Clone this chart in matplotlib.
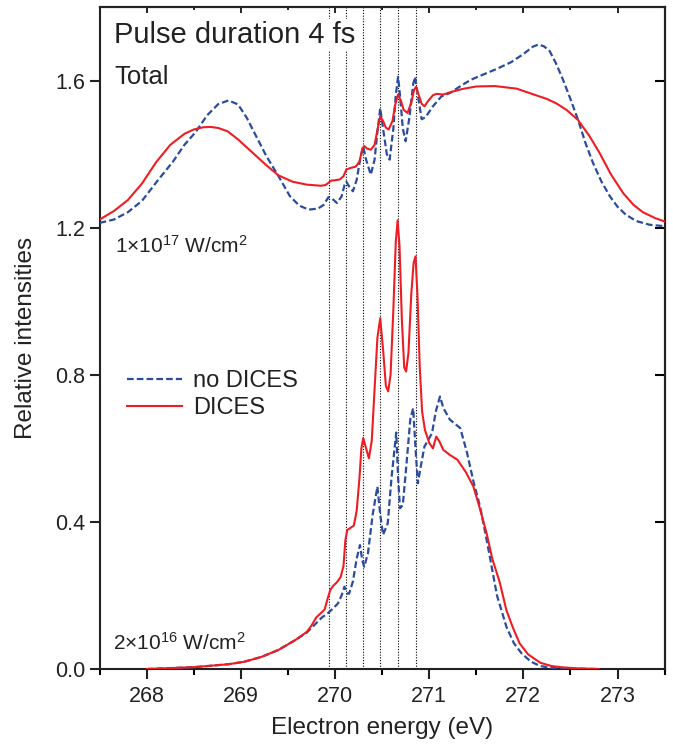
import numpy as np
import matplotlib
matplotlib.use("Agg")
import matplotlib.pyplot as plt
from matplotlib.ticker import MultipleLocator

plt.rcParams['font.family'] = ['Liberation Sans', 'DejaVu Sans']
plt.rcParams['mathtext.fontset'] = 'custom'
plt.rcParams['mathtext.rm'] = 'Liberation Sans'
plt.rcParams['mathtext.it'] = 'Liberation Sans:italic'
plt.rcParams['mathtext.bf'] = 'Liberation Sans:bold'

# ------------------------------------------------------------
# data
# ------------------------------------------------------------
# 1e17 W/cm^2, DICES (red solid)
hi_dices_E = [267.5, 267.65, 267.8, 267.95, 268.1, 268.25, 268.4, 268.5, 268.6, 268.68,
              268.76, 268.86, 268.97, 269.12, 269.27, 269.4, 269.55, 269.7, 269.85, 269.9,
              269.93, 269.96, 270.0, 270.05, 270.09, 270.12, 270.16, 270.22, 270.26, 270.29,
              270.31, 270.34, 270.38, 270.42, 270.45, 270.48, 270.51, 270.54, 270.57, 270.61,
              270.64, 270.67, 270.7, 270.73, 270.77, 270.81, 270.84, 270.86, 270.89, 270.92,
              270.95, 270.99, 271.04, 271.08, 271.15, 271.22, 271.35, 271.5, 271.7, 271.93,
              272.1, 272.25, 272.35, 272.46, 272.58, 272.7, 272.81, 272.93, 273.06, 273.17,
              273.27, 273.4, 273.5]
hi_dices_I = [1.222, 1.245, 1.275, 1.32, 1.378, 1.425, 1.455, 1.467, 1.473, 1.474,
              1.471, 1.462, 1.44, 1.405, 1.37, 1.342, 1.325, 1.317, 1.314, 1.316,
              1.322, 1.328, 1.329, 1.331, 1.34, 1.358, 1.362, 1.366, 1.38, 1.415,
              1.422, 1.415, 1.412, 1.425, 1.465, 1.503, 1.49, 1.472, 1.467, 1.49,
              1.535, 1.562, 1.545, 1.52, 1.512, 1.54, 1.575, 1.583, 1.56, 1.537,
              1.53, 1.545, 1.56, 1.564, 1.562, 1.568, 1.577, 1.584, 1.585, 1.578,
              1.563, 1.55, 1.538, 1.52, 1.493, 1.45, 1.403, 1.345, 1.294, 1.262,
              1.242, 1.226, 1.217]

# 1e17 W/cm^2, no DICES (blue dashed)
hi_nodices_E = [267.5, 267.65, 267.8, 267.95, 268.11, 268.28, 268.4, 268.52, 268.64, 268.76,
                268.87, 268.97, 269.06, 269.16, 269.27, 269.4, 269.52, 269.62, 269.72, 269.82,
                269.88, 269.93, 269.97, 270.02, 270.07, 270.1, 270.12, 270.15, 270.19, 270.23,
                270.27, 270.3, 270.33, 270.38, 270.42, 270.45, 270.48, 270.51, 270.55, 270.58,
                270.62, 270.645, 270.67, 270.69, 270.72, 270.75, 270.79, 270.83, 270.85, 270.88,
                270.92, 270.96, 271.04, 271.13, 271.22, 271.35, 271.45, 271.57, 271.72, 271.87,
                272.0, 272.1, 272.16, 272.22, 272.28, 272.35, 272.42, 272.5, 272.58, 272.66,
                272.74, 272.83, 272.92, 273.0, 273.09, 273.2, 273.34, 273.5]
hi_nodices_I = [1.213, 1.222, 1.242, 1.273, 1.326, 1.38, 1.425, 1.46, 1.505, 1.536,
                1.546, 1.535, 1.5, 1.45, 1.395, 1.34, 1.286, 1.26, 1.249, 1.252,
                1.262, 1.283, 1.279, 1.267, 1.285, 1.315, 1.325, 1.312, 1.299, 1.33,
                1.39, 1.42, 1.385, 1.344, 1.385, 1.46, 1.525, 1.47, 1.40, 1.385,
                1.47, 1.56, 1.61, 1.56, 1.47, 1.435, 1.5, 1.59, 1.61, 1.56,
                1.495, 1.50, 1.53, 1.557, 1.566, 1.588, 1.603, 1.616, 1.632, 1.65,
                1.672, 1.692, 1.698, 1.693, 1.68, 1.645, 1.603, 1.55, 1.494, 1.43,
                1.376, 1.325, 1.285, 1.257, 1.235, 1.218, 1.208, 1.204]

# 2e16 W/cm^2, DICES (red solid)
lo_dices_E = [268.0, 268.5, 268.87, 269.04, 269.22, 269.4, 269.58, 269.7, 269.75, 269.8,
              269.85, 269.89, 269.92, 269.95, 269.98, 270.02, 270.06, 270.09, 270.11, 270.13,
              270.16, 270.2, 270.23, 270.26, 270.28, 270.3, 270.33, 270.36, 270.39, 270.42,
              270.45, 270.48, 270.51, 270.54, 270.565, 270.59, 270.62, 270.645, 270.665, 270.685,
              270.71, 270.735, 270.755, 270.78, 270.81, 270.835, 270.855, 270.875, 270.9, 270.925,
              270.955, 271.0, 271.04, 271.075, 271.11, 271.15, 271.22, 271.3, 271.39, 271.47,
              271.54, 271.61, 271.67, 271.75, 271.82, 271.89, 271.96, 272.05, 272.18, 272.3,
              272.4, 272.55, 272.8]
lo_dices_I = [0.0, 0.005, 0.013, 0.02, 0.033, 0.052, 0.079, 0.101, 0.118, 0.14,
              0.152, 0.162, 0.19, 0.215, 0.226, 0.236, 0.25, 0.28, 0.35, 0.378,
              0.383, 0.39, 0.43, 0.52, 0.6, 0.628, 0.60, 0.573, 0.62, 0.76,
              0.90, 0.954, 0.87, 0.77, 0.755, 0.80, 0.98, 1.16, 1.22, 1.15,
              0.95, 0.82, 0.809, 0.86, 1.02, 1.105, 1.122, 1.02, 0.82, 0.70,
              0.65, 0.615, 0.60, 0.632, 0.618, 0.596, 0.582, 0.569, 0.535, 0.496,
              0.435, 0.369, 0.30, 0.235, 0.16, 0.112, 0.07, 0.04, 0.017, 0.008,
              0.005, 0.002, 0.0]

# 2e16 W/cm^2, no DICES (blue dashed)
lo_nodices_E = [268.0, 268.5, 268.87, 269.04, 269.22, 269.4, 269.58, 269.7, 269.79, 269.86,
                269.93, 269.98, 270.03, 270.07, 270.1, 270.13, 270.15, 270.19, 270.23, 270.265,
                270.29, 270.31, 270.35, 270.4, 270.45, 270.48, 270.51, 270.56, 270.6, 270.65,
                270.67, 270.69, 270.72, 270.76, 270.8, 270.83, 270.86, 270.88, 270.91, 270.95,
                271.03, 271.07, 271.115, 271.15, 271.22, 271.33, 271.4, 271.47, 271.54, 271.6,
                271.65, 271.72, 271.82, 271.9, 271.98, 272.08, 272.18, 272.3, 272.5, 272.8]
lo_nodices_I = [0.0, 0.005, 0.013, 0.02, 0.033, 0.052, 0.079, 0.099, 0.122, 0.14,
                0.153, 0.165, 0.178, 0.2, 0.224, 0.205, 0.205, 0.238, 0.3, 0.337,
                0.295, 0.278, 0.315, 0.42, 0.496, 0.42, 0.365, 0.396, 0.52, 0.643,
                0.52, 0.437, 0.446, 0.56, 0.68, 0.709, 0.58, 0.505, 0.55, 0.605,
                0.641, 0.70, 0.741, 0.71, 0.678, 0.655, 0.59, 0.51, 0.442, 0.365,
                0.297, 0.2, 0.115, 0.07, 0.043, 0.02, 0.008, 0.003, 0.001, 0.0]

# positions of the dotted guide lines
guide_E = [269.94, 270.12, 270.30, 270.48, 270.67, 270.86]

RED = '#EE1D23'
BLUE = '#2B4C9E'

# ------------------------------------------------------------
# figure
# ------------------------------------------------------------
fig = plt.figure(figsize=(6.73, 7.46), dpi=100)
ax = fig.add_axes([0.148, 0.1032, 0.8395, 0.8874])

for e in guide_E:
    ax.axvline(e, color='black', ls=(0, (1, 1.5)), lw=0.8, zorder=1)

ax.plot(hi_nodices_E, hi_nodices_I, color=BLUE, lw=1.6, dashes=(3, 1.4), zorder=3,
        label='no DICES')
ax.plot(hi_dices_E, hi_dices_I, color=RED, lw=1.5, zorder=4, label='DICES')
ax.plot(lo_nodices_E, lo_nodices_I, color=BLUE, lw=1.6, dashes=(3, 1.4), zorder=3)
ax.plot(lo_dices_E, lo_dices_I, color=RED, lw=1.5, zorder=4)

ax.set_xlim(267.5, 273.5)
ax.set_ylim(0, 1.8)

ax.xaxis.set_major_locator(MultipleLocator(1))
ax.xaxis.set_minor_locator(MultipleLocator(0.5))
ax.set_yticks([0.0, 0.4, 0.8, 1.2, 1.6])
ax.set_yticklabels(['0.0', '0.4', '0.8', '1.2', '1.6'])

ax.tick_params(axis='both', which='major', direction='out', length=7, width=1.5,
               labelsize=15.5, colors='#222222')
ax.tick_params(axis='x', which='minor', direction='out', length=4.5, width=1.5)
ax.tick_params(axis='x', which='major', pad=5)

for sp in ax.spines.values():
    sp.set_linewidth(1.5)
    sp.set_color('#222222')

# mirrored ticks pointing inward on top and right
top = ax.secondary_xaxis('top')
top.xaxis.set_major_locator(MultipleLocator(1))
top.xaxis.set_minor_locator(MultipleLocator(0.5))
top.tick_params(which='major', direction='in', length=4, width=1.2, labeltop=False)
top.tick_params(which='minor', direction='in', length=2.5, width=1.2)
top.spines['top'].set_linewidth(1.5)

right = ax.secondary_yaxis('right')
right.set_yticks([0.4, 0.8, 1.2, 1.6])
right.tick_params(direction='in', length=7, width=1.5, labelright=False)
right.spines['right'].set_linewidth(1.5)

ax.set_xlabel('Electron energy (eV)', fontsize=17.5, color='#222222')
ax.xaxis.set_label_coords(0.5, -0.072)
ax.xaxis.label.set_va('top')
ax.set_ylabel('Relative intensities', fontsize=17.5, color='#222222')
ax.yaxis.set_label_coords(-0.11, 0.5)

# annotations
ax.text(0.0255, 0.979, 'Pulse duration 4 fs', transform=ax.transAxes, fontsize=21,
        ha='left', va='top', color='#222222', zorder=5,
        bbox=dict(fc='white', ec='none', pad=1))
ax.text(0.0255, 0.912, 'Total', transform=ax.transAxes, fontsize=18.5,
        ha='left', va='top', color='#222222', zorder=5)
ax.text(0.027, 0.628, r'1$\times$10$^{17}$ W/cm$^{2}$', transform=ax.transAxes,
        fontsize=15, ha='left', va='baseline', color='#222222')
ax.text(0.024, 0.029, r'2$\times$10$^{16}$ W/cm$^{2}$', transform=ax.transAxes,
        fontsize=15, ha='left', va='baseline', color='#222222')

leg = ax.legend(loc='upper left', bbox_to_anchor=(0.048, 0.452), frameon=False,
                fontsize=17, handlelength=2.35, handletextpad=0.45, labelspacing=0.22,
                borderpad=0, borderaxespad=0)
for t in leg.get_texts():
    t.set_color('#222222')

fig.savefig('out.png', dpi=100)
